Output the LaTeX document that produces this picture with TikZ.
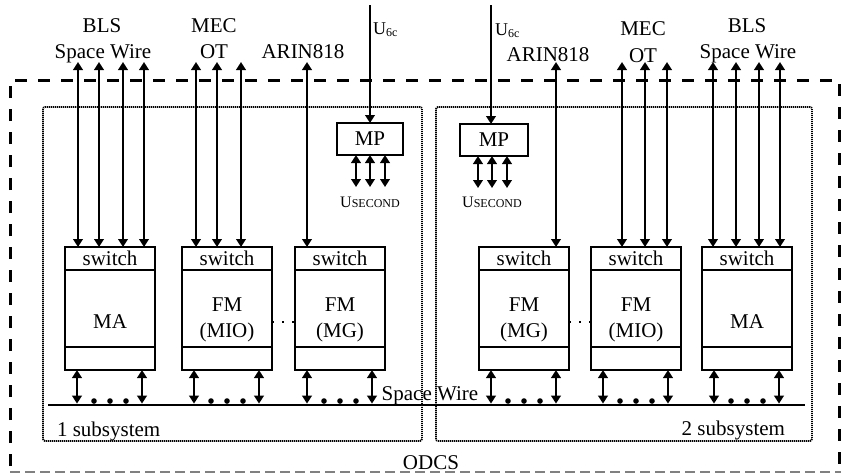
\documentclass[tikz,border=0pt]{standalone}
\usepackage{fontspec}
\setmainfont{Liberation Serif}
\usetikzlibrary{positioning,arrows.meta}

\begin{document}
\begin{tikzpicture}[x=0.5pt,y=-0.5pt,font=\fontsize{10.5}{13}\selectfont,
    every node/.style={inner sep=0pt,outer sep=0pt},
    swbox/.style={draw, line width=0.85pt, minimum width=45pt, minimum height=11.5pt},
    bodybox/.style={draw, line width=0.85pt, minimum width=45pt, minimum height=38.5pt},
    mpbox/.style={draw, line width=0.85pt, minimum width=33pt, minimum height=16pt},
    subsys/.style={draw, line width=0.9pt, dash pattern=on 0.6pt off 0.4pt, rounded corners=1pt},
    dbl/.style={{Triangle[length=4pt,width=4.8pt]}-{Triangle[length=4pt,width=4.8pt]}, line width=1pt},
    arr/.style={-{Triangle[length=4pt,width=4.8pt]}, line width=1pt},
    bus/.style={line width=1.4pt},
    odcs/.style={line width=1.5pt, dash pattern=on 6pt off 5.5pt}]
  \useasboundingbox (0,0) rectangle (841,473);

  % ODCS frame
  \draw[odcs] (10,466) -- (10,80) -- (839,80) -- (839,466);
  \draw[gray, line width=0.8pt, dash pattern=on 5pt off 2.5pt] (10,472) -- (841,472);
  \node[anchor=base] (odcs) at (431,469) {ODCS};

  % subsystems
  \node[subsys, minimum width=189.5pt, minimum height=167pt] (sub1) at (232.5,274) {};
  \node[subsys, minimum width=188pt, minimum height=167pt] (sub2) at (624,274) {};
  \node[anchor=base west] (sub1t) at (57,436) {1 subsystem};
  \node[anchor=base east] (sub2t) at (785,435) {2 subsystem};

  % space wire bus
  \coordinate (busL) at (48,405);
  \coordinate (busR) at (805,405);
  \draw[bus] (busL) -- (busR);
  \node[anchor=base] (spwBus) at (430,400) {Space Wire};

  % modules: switch / body / foot
  \foreach \n/\cx in {A/110,B/227,C/340,D/524,E/636,F/747}{
    \node[swbox] (sw\n) at (\cx,258.5) {switch};
    \node[bodybox, below=0pt of sw\n] (bd\n) {};
    \node[swbox, below=0pt of bd\n] (ft\n) {};
    \draw[dbl, shorten >=0.7pt] ([xshift=6pt]ft\n.south west) -- ([xshift=6pt]ft\n.south west |- busL);
    \draw[dbl, shorten >=0.7pt] ([xshift=-6.5pt]ft\n.south east) -- ([xshift=-6.5pt]ft\n.south east |- busL);
    \foreach \d in {-16,0,16}
      \fill (\cx+\d,401) circle (1.4pt);
  }
  \node (tA) at ([yshift=-6.75pt]bdA.center) {MA};
  \node[align=center] (tB) at ([yshift=-5.75pt]bdB.center) {FM\\(MIO)};
  \node[align=center] (tC) at ([yshift=-5.75pt]bdC.center) {FM\\(MG)};
  \node[align=center] (tD) at ([yshift=-5.75pt]bdD.center) {FM\\(MG)};
  \node[align=center] (tE) at ([yshift=-5.75pt]bdE.center) {FM\\(MIO)};
  \node (tF) at ([yshift=-6.75pt]bdF.center) {MA};
  \draw[line width=1pt, dash pattern=on 1pt off 4pt] ([yshift=-6.75pt]bdB.east) -- ([yshift=-6.75pt]bdC.west);
  \draw[line width=1pt, dash pattern=on 1pt off 4pt] ([yshift=-6.75pt]bdD.east) -- ([yshift=-6.75pt]bdE.west);

  % outside links
  \node[anchor=base] (blsLt) at (102,32) {BLS};
  \node[anchor=base] (spwLt) at (103,58) {Space Wire};
  \node[anchor=base] (mecLt) at (214,32) {MEC};
  \node[anchor=base] (otLt) at (214,58) {OT};
  \node[anchor=base] (arLt) at (303,58) {ARIN818};
  \node[anchor=base] (arRt) at (548,61) {ARIN818};
  \node[anchor=base] (mecRt) at (643,35) {MEC};
  \node[anchor=base] (otRt) at (643,62) {OT};
  \node[anchor=base] (blsRt) at (747,32) {BLS};
  \node[anchor=base] (spwRt) at (748,58) {Space Wire};

  \foreach \x [count=\i] in {78,99,123,144}{
    \coordinate (blsL\i) at (\x,62);
    \draw[dbl] (blsL\i) -- (blsL\i |- swA.north);}
  \foreach \x [count=\i] in {196,217,241}{
    \coordinate (mecL\i) at (\x,62);
    \draw[dbl] (mecL\i) -- (mecL\i |- swB.north);}
  \coordinate (arL) at (307,62);
  \draw[dbl] (arL) -- (arL |- swC.north);
  \coordinate (arR) at (556,62);
  \draw[dbl] (arR) -- (arR |- swD.north);
  \foreach \x [count=\i] in {622,645,667}{
    \coordinate (mecR\i) at (\x,62);
    \draw[dbl] (mecR\i) -- (mecR\i |- swE.north);}
  \foreach \x [count=\i] in {713,736,759,780}{
    \coordinate (blsR\i) at (\x,62);
    \draw[dbl] (blsR\i) -- (blsR\i |- swF.north);}

  % MP units
  \node[mpbox] (mpL) at (370,139) {MP};
  \node[mpbox, minimum width=34pt] (mpR) at (494,140) {MP};
  \coordinate (u6L) at (370,5);
  \coordinate (u6R) at (491,5);
  \draw[arr] (u6L) -- (u6L |- mpL.north);
  \draw[arr] (u6R) -- (u6R |- mpR.north);
  \node[anchor=base west] (u6Lt) at (373,34) {\fontsize{9}{10}\selectfont U\textsubscript{6c}};
  \node[anchor=base west] (u6Rt) at (495,35) {\fontsize{9}{10}\selectfont U\textsubscript{6c}};
  \foreach \x [count=\i] in {356,370,385}{
    \coordinate (usL\i) at (\x,187);
    \draw[dbl] (usL\i |- mpL.south) -- (usL\i);}
  \foreach \x [count=\i] in {478,492,507}{
    \coordinate (usR\i) at (\x,188);
    \draw[dbl] (usR\i |- mpR.south) -- (usR\i);}
  \node[anchor=base] (usLt) at (370,207) {\fontsize{8}{9}\selectfont U\fontsize{6}{7}\selectfont SECOND};
  \node[anchor=base] (usRt) at (492,207) {\fontsize{8}{9}\selectfont U\fontsize{6}{7}\selectfont SECOND};
\end{tikzpicture}
\end{document}
